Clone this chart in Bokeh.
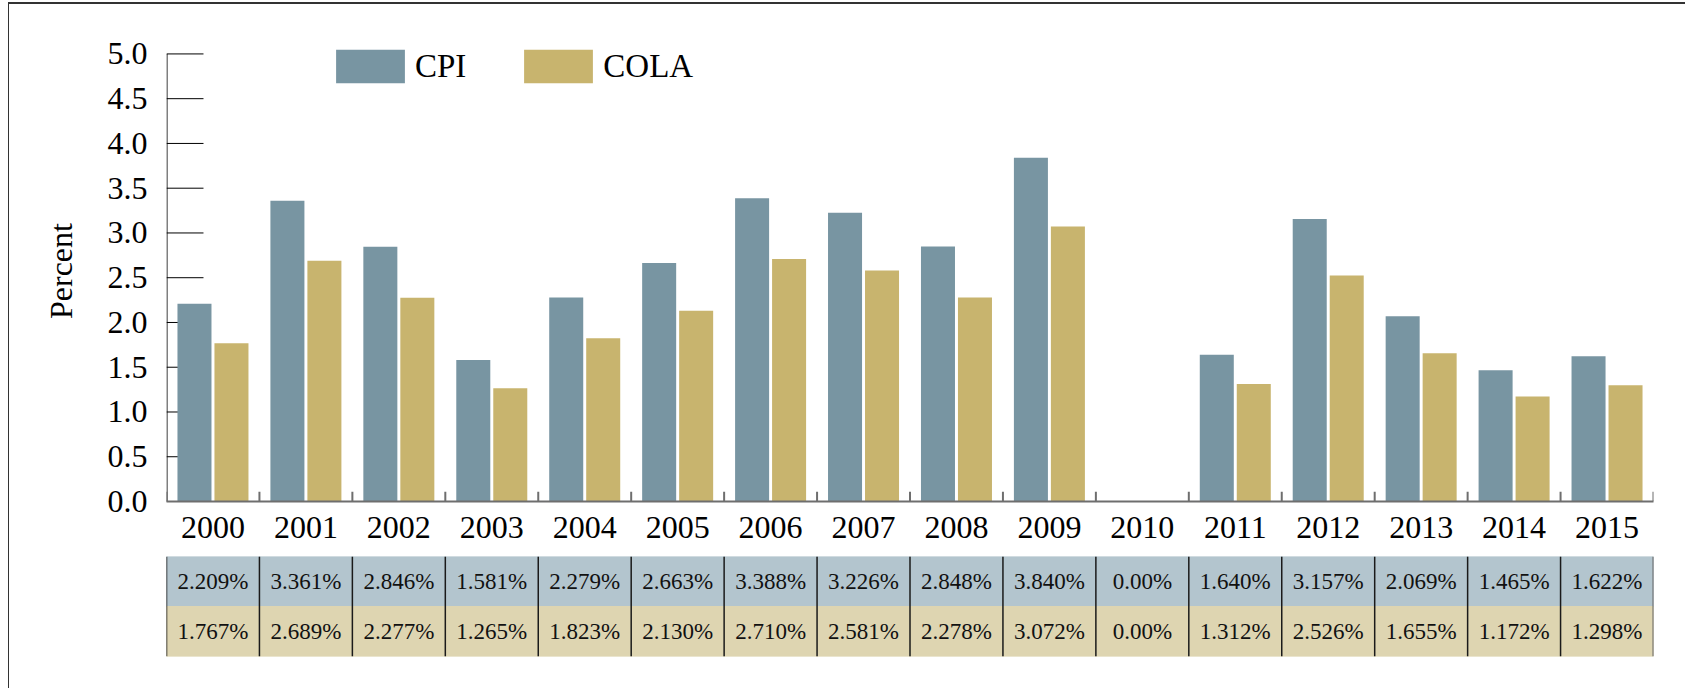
from bokeh.plotting import figure
from bokeh.models import (ColumnDataSource, FactorRange, Range1d, FixedTicker,
                          NumeralTickFormatter, Legend, LegendItem)
from bokeh.transform import dodge
from bokeh.layouts import column
from bokeh.core.properties import value
from bokeh.embed import file_html
from bokeh.resources import INLINE

# ---------------- data ----------------
years = ["2000", "2001", "2002", "2003", "2004", "2005", "2006", "2007",
         "2008", "2009", "2010", "2011", "2012", "2013", "2014", "2015"]
cpi = [2.209, 3.361, 2.846, 1.581, 2.279, 2.663, 3.388, 3.226,
       2.848, 3.840, 0.0, 1.640, 3.157, 2.069, 1.465, 1.622]
cola = [1.767, 2.689, 2.277, 1.265, 1.823, 2.130, 2.710, 2.581,
        2.278, 3.072, 0.0, 1.312, 2.526, 1.655, 1.172, 1.298]
y_ticks = [0.0, 0.5, 1.0, 1.5, 2.0, 2.5, 3.0, 3.5, 4.0, 4.5, 5.0]
series_names = ["CPI", "COLA"]
y_label = "Percent"

# ---------------- style ----------------
FONT = "Liberation Serif"
CPI_C = "#7895A2"
COLA_C = "#C8B46E"
CPI_ROW = "#B3C5CE"
COLA_ROW = "#DED5B1"
AX_C = "#6e6e6e"


def fmt(v):
    return "0.00%" if v == 0 else f"{v:.3f}%"


src = ColumnDataSource(dict(
    year=years, cpi=cpi, cola=cola,
    cpi_lbl=[fmt(v) for v in cpi], cola_lbl=[fmt(v) for v in cola],
))
end_src = ColumnDataSource(dict(year=[years[-1]]))
tick_src = ColumnDataSource(dict(tick=y_ticks, year=[years[0]] * len(y_ticks)))
yline_src = ColumnDataSource(dict(year=[years[0]], y0=[y_ticks[0]], y1=[y_ticks[-1]]))

x_range = FactorRange(factors=years, range_padding=0)

# ---------------- chart ----------------
p = figure(width=1676, height=548, x_range=x_range, y_range=Range1d(0, 5.15),
           output_backend="svg", toolbar_location=None,
           min_border_left=157, min_border_right=32,
           min_border_top=36, min_border_bottom=51)
p.outline_line_color = None
p.xgrid.visible = False
p.ygrid.visible = False

yax = p.yaxis[0]
yax.ticker = FixedTicker(ticks=y_ticks)
yax.formatter = NumeralTickFormatter(format="0.0")
yax.major_tick_in = 0
yax.major_tick_out = 0
yax.minor_tick_line_color = None
yax.axis_line_color = None
yax.major_label_text_font = FONT
yax.major_label_text_font_size = "32px"
yax.major_label_text_color = "black"
yax.major_label_standoff = 19
yax.axis_label = y_label
yax.axis_label_text_font = FONT
yax.axis_label_text_font_size = "32px"
yax.axis_label_text_font_style = "normal"
yax.axis_label_text_color = "black"
yax.axis_label_standoff = 26

xax = p.xaxis[0]
xax.major_tick_line_color = None
xax.minor_tick_line_color = None
xax.axis_line_color = AX_C
xax.axis_line_width = 2
xax.major_label_text_font = FONT
xax.major_label_text_font_size = "32px"
xax.major_label_text_color = "black"
xax.major_label_standoff = 9

# y axis line and inner ticks (drawn below the bars)
p.segment(x0=dodge("year", -0.4946, range=x_range), x1=dodge("year", -0.4946, range=x_range),
          y0="y0", y1="y1", source=yline_src, line_color="black", line_width=1)
p.segment(x0=dodge("year", -0.5, range=x_range), x1=dodge("year", -0.102, range=x_range),
          y0="tick", y1="tick", source=tick_src, line_color="black", line_width=1)

r1 = p.vbar(x=dodge("year", -0.199, range=x_range), top="cpi", width=0.366,
            source=src, fill_color=CPI_C, line_color=None)
r2 = p.vbar(x=dodge("year", 0.199, range=x_range), top="cola", width=0.366,
            source=src, fill_color=COLA_C, line_color=None)

# category boundary ticks on the x axis
p.segment(x0=dodge("year", -0.5, range=x_range), x1=dodge("year", -0.5, range=x_range),
          y0=0, y1=0.11, source=src, line_color=AX_C, line_width=2)
p.segment(x0=dodge("year", 0.5, range=x_range), x1=dodge("year", 0.5, range=x_range),
          y0=0, y1=0.11, source=end_src, line_color=AX_C, line_width=2)

legend = Legend(items=[LegendItem(label=series_names[0], renderers=[r1]),
                       LegendItem(label=series_names[1], renderers=[r2])],
                location=(161, 414), orientation="horizontal",
                glyph_width=86, glyph_height=42, label_standoff=2, spacing=49,
                padding=0, margin=0, border_line_color=None,
                background_fill_alpha=0, label_text_font=FONT,
                label_text_font_size="33px", label_text_color="black")
p.add_layout(legend)

# ---------------- data table ----------------
t = figure(width=1676, height=136, x_range=x_range, y_range=Range1d(0, 2),
           output_backend="svg", toolbar_location=None,
           min_border_left=157, min_border_right=32,
           min_border_top=4, min_border_bottom=32)
t.outline_line_color = None
t.axis.visible = False
t.xgrid.visible = False
t.ygrid.visible = False

t.rect(x="year", y=1.5, width=1, height=1, source=src,
       fill_color=CPI_ROW, line_color=CPI_ROW, line_width=1)
t.rect(x="year", y=0.5, width=1, height=1, source=src,
       fill_color=COLA_ROW, line_color=COLA_ROW, line_width=1)
t.text(x="year", y=1.5, text="cpi_lbl", source=src, text_font=value(FONT),
       text_font_size="23px", text_align="center", text_baseline="middle",
       text_color="#111111")
t.text(x="year", y=0.5, text="cola_lbl", source=src, text_font=value(FONT),
       text_font_size="23px", text_align="center", text_baseline="middle",
       text_color="#111111")
t.segment(x0=dodge("year", -0.5, range=x_range), x1=dodge("year", -0.5, range=x_range),
          y0=0, y1=2, source=src, line_color="#1a1a1a", line_width=1.5)
t.segment(x0=dodge("year", 0.5, range=x_range), x1=dodge("year", 0.5, range=x_range),
          y0=0, y1=2, source=end_src, line_color="#666666", line_width=2)

layout = column(p, t, spacing=0,
                styles={"border-left": "1px solid #333333",
                        "border-top": "2px solid #333333",
                        "margin-left": "8px",
                        "margin-top": "2px"})

open("out.html", "w").write(file_html(layout, INLINE))
